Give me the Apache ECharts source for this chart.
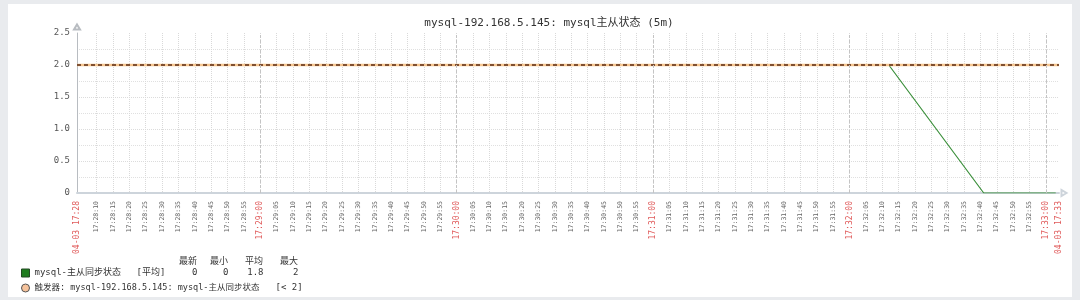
<!DOCTYPE html>
<html><head><meta charset="utf-8">
<script src="https://cdn.jsdelivr.net/npm/echarts@6/dist/echarts.min.js"></script>
<style>
html,body{margin:0;padding:0;background:#e9ebee;width:1080px;height:300px;overflow:hidden}
#c{position:absolute;left:8px;top:4px;width:1064px;height:293px;background:#fff}
</style></head><body><div id="c"></div>
<script>
// ---- data ----
const titleText = 'mysql-192.168.5.145: mysql主从状态 (5m)';
const axisStart = '17:28:04';
const axisEnd = '17:33:04';
const dateLabelStart = '04-03 17:28';
const dateLabelEnd = '04-03 17:33';
const seriesName = 'mysql-主从同步状态';
const itemTimes = ['17:28:04', '17:32:12', '17:32:41', '17:33:03'];
const itemValues = [2, 2, 0, 0];
const triggerName = '触发器: mysql-192.168.5.145: mysql-主从同步状态';
const triggerCond = '[< 2]';
const triggerTimes = ['17:28:04', '17:33:04'];
const triggerValues = [2, 2];
const statFunc = '[平均]';
const legendHeaders = ['最新', '最小', '平均', '最大'];
const itemStats = ['0', '0', '1.8', '2'];
const minuteTicks = ['17:29:00', '17:30:00', '17:31:00', '17:32:00', '17:33:00'];
const tickLabels = [
 '17:28:10','17:28:15','17:28:20','17:28:25','17:28:30','17:28:35','17:28:40','17:28:45','17:28:50','17:28:55',
 '17:29:00','17:29:05','17:29:10','17:29:15','17:29:20','17:29:25','17:29:30','17:29:35','17:29:40','17:29:45','17:29:50','17:29:55',
 '17:30:00','17:30:05','17:30:10','17:30:15','17:30:20','17:30:25','17:30:30','17:30:35','17:30:40','17:30:45','17:30:50','17:30:55',
 '17:31:00','17:31:05','17:31:10','17:31:15','17:31:20','17:31:25','17:31:30','17:31:35','17:31:40','17:31:45','17:31:50','17:31:55',
 '17:32:00','17:32:05','17:32:10','17:32:15','17:32:20','17:32:25','17:32:30','17:32:35','17:32:40','17:32:45','17:32:50','17:32:55',
 '17:33:00'
];
const yMin = 0, yMax = 2.5, yStep = 0.5;

// ---- build ----
const toSec = t => { const p = t.split(':').map(Number); return p[0]*3600 + p[1]*60 + p[2]; };
const FF = "'DejaVu Sans Mono','Noto Sans CJK SC',monospace";
const xMin = toSec(axisStart), xMax = toSec(axisEnd);
const labelMap = {};
labelMap[xMin] = '{d|' + dateLabelStart + '}';
labelMap[xMax] = '{d|' + dateLabelEnd + '}';
tickLabels.forEach(t => { labelMap[toSec(t)] = t.endsWith(':00') ? '{r|' + t + '}' : '{g|' + t + '}'; });
const labelSecs = [xMin].concat(tickLabels.map(toSec)).concat([xMax]);
const gridSecs = tickLabels.map(toSec);

const txt = (extra) => Object.assign({fontFamily: FF, fontSize: 9, color: '#333'}, extra || {});
const legendText = {
  fontFamily: FF, fontSize: 9, color: '#333', lineHeight: 12,
  rich: {
    n: txt({width: 102}), a: txt({width: 40}),
    v1: txt({width: 21, align: 'right'}), v2: txt({width: 31, align: 'right'}),
    v3: txt({width: 35, align: 'right'}), v4: txt({width: 35, align: 'right'}),
    t: txt({width: 241, fontSize: 8.5}), c: txt()
  }
};
const legendFmt = name => name === seriesName
  ? '{n|' + seriesName + '}{a|' + statFunc + '}{v1|' + itemStats[0] + '}{v2|' + itemStats[1] + '}{v3|' + itemStats[2] + '}{v4|' + itemStats[3] + '}'
  : '{t|' + triggerName + '}{c|' + triggerCond + '}';

const chart = echarts.init(document.getElementById('c'), null, {renderer: 'canvas'});
chart.setOption({
  animation: false,
  backgroundColor: '#fff',
  title: {
    text: titleText, left: 536, top: 9, textAlign: 'center',
    textStyle: {fontFamily: FF, fontSize: 11, fontWeight: 'normal', color: '#333'}
  },
  grid: {left: 69, top: 29, width: 982, height: 160, containLabel: false},
  xAxis: {
    type: 'value', min: xMin, max: xMax,
    axisLine: {show: true, lineStyle: {color: '#cdd4db', width: 2}, symbol: ['none', 'emptyTriangle'], symbolSize: [6, 5], symbolOffset: [0, 5]},
    axisTick: {show: false, customValues: gridSecs},
    splitLine: {show: true, lineStyle: {color: '#d9d9d9', type: 'dotted', width: 1}},
    axisLabel: {
      customValues: labelSecs, showMinLabel: true, showMaxLabel: true,
      rotate: 90, margin: 8,
      formatter: v => labelMap[v] || '',
      rich: {
        g: {fontFamily: FF, fontSize: 6.5, color: '#666'},
        r: {fontFamily: FF, fontSize: 8, color: '#e05a5a'},
        d: {fontFamily: FF, fontSize: 8, color: '#e05a5a'}
      }
    }
  },
  yAxis: {
    type: 'value', min: yMin, max: yMax, interval: yStep,
    axisLine: {show: true, lineStyle: {color: '#b8bcc1', width: 1}, symbol: ['none', 'emptyTriangle'], symbolSize: [6, 5], symbolOffset: [0, 6]},
    axisTick: {show: false},
    axisLabel: {fontFamily: FF, fontSize: 9, color: '#555', margin: 7, formatter: v => v === 0 ? '0' : v.toFixed(1)},
    splitLine: {show: true, showMaxLine: false, lineStyle: {color: '#dcdcdc', type: 'dotted'}},
    minorTick: {show: false, splitNumber: 2},
    minorSplitLine: {show: true, lineStyle: {color: '#e0e0e0', type: 'dotted'}}
  },
  legend: [
    {
      left: 13, top: 263, padding: 0, itemWidth: 8, itemHeight: 8, selectedMode: false,
      data: [{name: seriesName, icon: 'rect', itemStyle: {color: '#1f7c1f', borderColor: '#244a24', borderWidth: 1}, lineStyle: {width: 0, opacity: 0}}],
      formatter: legendFmt, textStyle: legendText
    },
    {
      left: 13, top: 278, padding: 0, itemWidth: 8, itemHeight: 8, selectedMode: false,
      data: [{name: triggerName, icon: 'circle', itemStyle: {color: '#f6c39c', borderColor: '#555', borderWidth: 1}, lineStyle: {width: 0, opacity: 0}}],
      formatter: legendFmt, textStyle: legendText
    }
  ],
  graphic: legendHeaders.map((h, i) => ({
    type: 'text', x: [189, 220, 255, 290][i], y: 258,
    style: {text: h, align: 'right', verticalAlign: 'middle', fontFamily: FF, fontSize: 9, fill: '#333'}
  })),
  series: [
    {
      name: seriesName, type: 'line', symbol: 'none', z: 2,
      data: itemTimes.map((t, i) => [toSec(t), itemValues[i]]),
      lineStyle: {color: '#3a8f3a', width: 1.2},
      itemStyle: {color: '#1f7c1f'},
      markLine: {
        silent: true, symbol: 'none', label: {show: false},
        lineStyle: {color: '#c4c4c4', type: [3, 2], width: 1},
        data: minuteTicks.map(t => ({xAxis: toSec(t)}))
      }
    },
    {
      name: triggerName, type: 'line', symbol: 'none', z: 3,
      data: triggerTimes.map((t, i) => [toSec(t), triggerValues[i]]),
      lineStyle: {color: '#f6c690', width: 2.5},
      itemStyle: {color: '#f6c39c'}
    },
    {
      name: triggerName, type: 'line', symbol: 'none', z: 4,
      data: triggerTimes.map((t, i) => [toSec(t), triggerValues[i]]),
      lineStyle: {color: '#5a2a12', width: 1.3, type: [4, 3]},
      itemStyle: {color: '#f6c39c'}
    }
  ]
});
</script></body></html>
